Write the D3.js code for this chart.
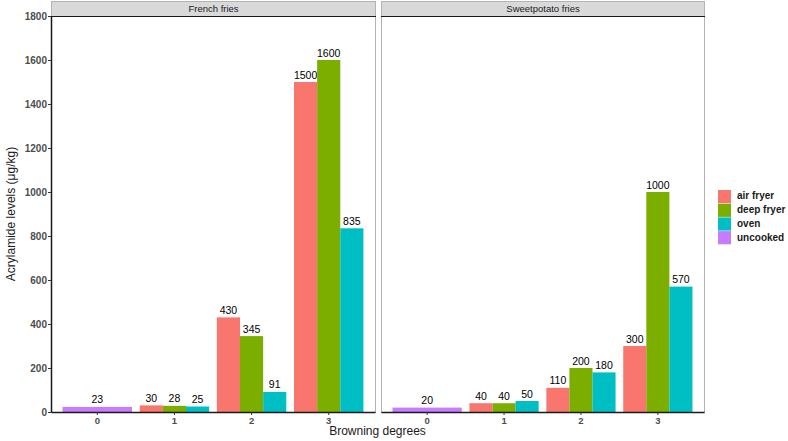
<!DOCTYPE html>
<html>
<head>
<meta charset="utf-8">
<script src="https://cdn.jsdelivr.net/npm/d3@7"></script>
<style>
body{margin:0;background:#fff;}
text{font-family:"Liberation Sans",Arial,sans-serif;}
</style>
</head>
<body>
<svg id="chart" width="788" height="441"></svg>
<script>
const panels = ["French fries", "Sweetpotato fries"];
const categories = ["0", "1", "2", "3"];
const series = ["air fryer", "deep fryer", "oven", "uncooked"];
const colors = ["#F8766D", "#7CAE00", "#00BFC4", "#C77CFF"];
const yTicks = [0, 200, 400, 600, 800, 1000, 1200, 1400, 1600, 1800];
// values per panel, per category: [air fryer, deep fryer, oven, uncooked] (null = absent)
const frenchFries = [
  [null, null, null, 23],
  [30, 28, 25, null],
  [430, 345, 91, null],
  [1500, 1600, 835, null]
];
const sweetpotatoFries = [
  [null, null, null, 20],
  [40, 40, 50, null],
  [110, 200, 180, null],
  [300, 1000, 570, null]
];
const panelData = [frenchFries, sweetpotatoFries];

const svg = d3.select("#chart");
const yTop = 16, yBottom = 412;
const panelX = [[51, 375], [381, 704]];
const stripH = 15;

const y = d3.scaleLinear().domain([0, 1800]).range([yBottom, yTop]);
const color = d3.scaleOrdinal().domain(series).range(colors);

panelX.forEach((px, pi) => {
  const g = svg.append("g");
  g.append("rect").attr("x", px[0] + 0.5).attr("y", yTop + 0.5)
    .attr("width", px[1] - px[0]).attr("height", yBottom - yTop)
    .attr("fill", "#fff").attr("stroke", "#b3b3b3").attr("stroke-width", 1);
  g.append("rect").attr("x", px[0] + 0.5).attr("y", yTop - stripH + 0.5)
    .attr("width", px[1] - px[0]).attr("height", stripH)
    .attr("fill", "#d9d9d9").attr("stroke", "#b3b3b3").attr("stroke-width", 1);
  g.append("line").attr("x1", px[0]).attr("x2", px[1] + 1)
    .attr("y1", yTop + 0.5).attr("y2", yTop + 0.5)
    .attr("stroke", "#1a1a1a").attr("stroke-width", 1);
  g.append("text").attr("x", (px[0] + px[1]) / 2 + 0.5).attr("y", yTop - stripH / 2 + 1)
    .attr("text-anchor", "middle").attr("dominant-baseline", "middle")
    .attr("font-size", 9.5).attr("fill", "#1a1a1a").text(panels[pi]);

  const x = d3.scaleBand().domain(categories).range([px[0], px[1]])
    .paddingInner(0.1).paddingOuter(0.15);

  const data = panelData[pi];
  categories.forEach((c, ci) => {
    const present = series.filter((s, si) => data[ci][si] !== null);
    const xs = d3.scaleBand().domain(present).range([x(c), x(c) + x.bandwidth()]).padding(0);
    present.forEach(s => {
      const v = data[ci][series.indexOf(s)];
      g.append("rect").attr("x", xs(s)).attr("y", y(v))
        .attr("width", xs.bandwidth()).attr("height", y(0) - y(v))
        .attr("fill", color(s));
      g.append("text").attr("x", xs(s) + xs.bandwidth() / 2).attr("y", y(v) - 3.5)
        .attr("text-anchor", "middle").attr("font-size", 10.5).attr("fill", "#000")
        .text(v);
    });
  });

  const xa = g.append("g").attr("transform", `translate(0,${yBottom})`)
    .call(d3.axisBottom(x).tickSize(3).tickSizeOuter(0));
  xa.select(".domain").attr("stroke", "#1a1a1a").attr("stroke-width", 1.5);
  xa.selectAll(".tick line").attr("stroke", "#333");
  xa.selectAll(".tick text").attr("font-size", 9.5).attr("font-weight", "bold")
    .attr("fill", "#4d4d4d").attr("dy", "0.71em").attr("y", 5);

  if (pi === 0) {
    const ya = g.append("g").attr("transform", `translate(${px[0]},0)`)
      .call(d3.axisLeft(y).tickValues(yTicks).tickFormat(d3.format("d")).tickSize(3).tickSizeOuter(0));
    ya.select(".domain").attr("stroke", "#1a1a1a").attr("stroke-width", 1.5);
    ya.selectAll(".tick line").attr("stroke", "#333");
    ya.selectAll(".tick text").attr("font-size", 10).attr("font-weight", "bold")
      .attr("fill", "#4d4d4d").attr("x", -4);
  }
});

svg.append("text").attr("x", 377.5).attr("y", 435)
  .attr("text-anchor", "middle").attr("font-size", 12).attr("fill", "#1a1a1a")
  .text("Browning degrees");
svg.append("text").attr("transform", `translate(15,${(yTop + yBottom) / 2}) rotate(-90)`)
  .attr("text-anchor", "middle").attr("font-size", 12).attr("fill", "#1a1a1a")
  .text("Acrylamide levels (μg/kg)");

const lg = svg.append("g").attr("transform", "translate(718,190)");
series.forEach((s, i) => {
  lg.append("rect").attr("x", 0).attr("y", i * 13.7).attr("width", 13).attr("height", 13.2)
    .attr("fill", color(s));
  lg.append("text").attr("x", 19).attr("y", i * 13.7 + 6.8).attr("dominant-baseline", "middle")
    .attr("font-size", 10).attr("font-weight", "bold").attr("fill", "#1a1a1a").text(s);
});
</script>
</body>
</html>
